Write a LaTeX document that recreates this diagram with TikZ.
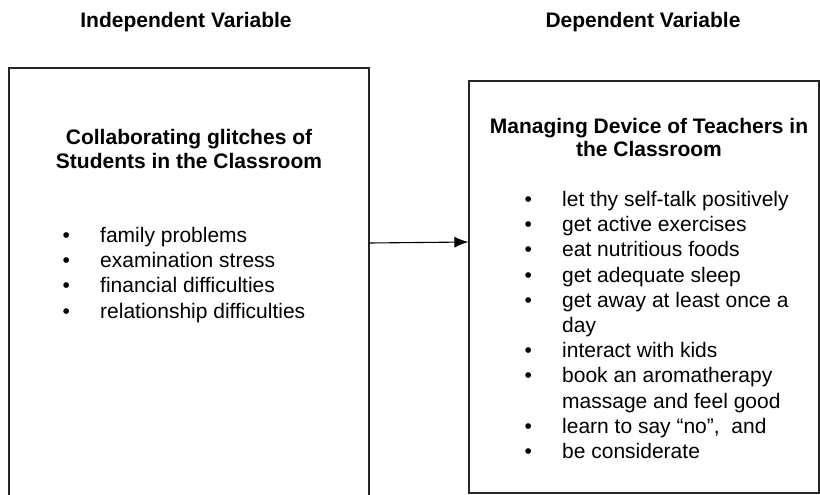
\documentclass[tikz,border=0pt]{standalone}
\usepackage{fontspec}
\setmainfont{Liberation Sans}
\usetikzlibrary{arrows.meta}

\newcommand{\itm}[1]{\makebox[37.5pt][l]{\textbullet}#1}

\begin{document}
\begin{tikzpicture}[x=1pt,y=-1pt,
        box/.style={draw=black!85,line width=1.2pt,inner sep=0pt},
        head/.style={font=\fontsize{21}{23.5}\selectfont\bfseries,align=center,anchor=base},
        list/.style={font=\fontsize{21}{25.2}\selectfont,align=left,anchor=base west,inner sep=0pt},
        arr/.style={-{Latex[length=14pt,width=11pt]},line width=1.1pt}]
    \useasboundingbox (0,0) rectangle (820,495);

    \node[head] (indep) at (186,28) {Independent Variable};
    \node[head] (dep) at (643,28) {Dependent Variable};

    \node[box,minimum width=360pt,minimum height=429pt] (lbox) at (189,282.5) {};
    \node[box,minimum width=350pt,minimum height=412pt] (rbox) at (644,287) {};

    % anchor base = last line
    \node[head] (lhead) at (189,168) {Collaborating glitches of\\Students in the Classroom};
    \node[head] (rhead) at (649,157) {Managing Device of Teachers in\\the Classroom};

    \node[list] (llist) at (62.5,318) {\itm{family problems}\\
        \itm{examination stress}\\
        \itm{financial difficulties}\\
        \itm{relationship difficulties}};
    \node[list] (rlist) at (524.5,458.5) {\itm{let thy self-talk positively}\\
        \itm{get active exercises}\\
        \itm{eat nutritious foods}\\
        \itm{get adequate sleep}\\
        \itm{get away at least once a}\\
        \hspace*{37.5pt}day\\
        \itm{interact with kids}\\
        \itm{book an aromatherapy}\\
        \hspace*{37.5pt}massage and feel good\\
        \itm{learn to say “no”,~ and}\\
        \itm{be considerate}};

    \draw[arr] ([yshift=39.5pt]lbox.east) -- ([yshift=45pt]rbox.west);
\end{tikzpicture}
\end{document}
